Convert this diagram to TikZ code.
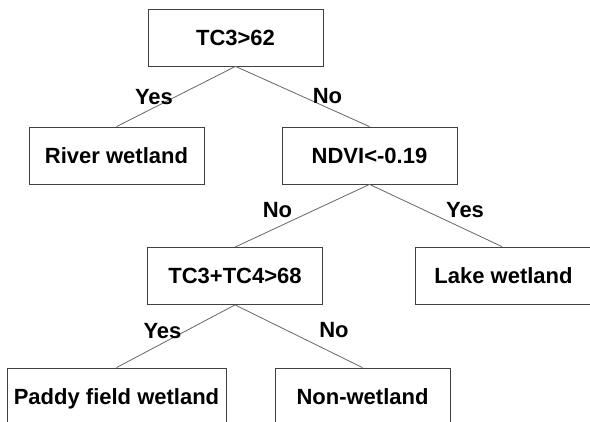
\documentclass[tikz,border=0pt]{standalone}
\usepackage{fontspec}
\setmainfont{Liberation Sans}
\begin{document}
\begin{tikzpicture}[x=1pt,y=-1pt,
  box/.style={draw=black!75, line width=0.8pt, minimum width=175pt, minimum height=57pt, inner sep=0pt,
    text height=16pt, text depth=0pt, font=\fontsize{22}{26}\selectfont\bfseries},
  answer/.style={inner sep=0pt, text height=16pt, text depth=0pt, font=\fontsize{22}{26}\selectfont\bfseries},
  branch/.style={draw=black!60, line width=0.8pt}]

\clip (0,0) rectangle (590,422);

% boxes
\node [box] (root) at (235.5,37.5) {TC3>62};
\node [box] (river) at (116.5,155.5) {River wetland};
\node [box] (ndvi) at (369.5,155.5) {NDVI<-0.19};
\node [box] (tcsum) at (235,276) {TC3+TC4>68};
\node [box, minimum width=177pt] (lake) at (503.5,275.5) {Lake wetland};
\node [box, minimum width=219pt] (paddy) at (116.5,396.5) {Paddy field wetland};
\node [box] (nonwet) at (362.5,396.5) {Non-wetland};

% branches
\draw [branch] (root.south) -- (river.north);
\draw [branch] (root.south) -- (ndvi.north);
\draw [branch] (ndvi.south) -- (tcsum.north);
\draw [branch] (ndvi.south) -- ([xshift=-1.5pt]lake.north);
\draw [branch] (tcsum.south) -- (paddy.north);
\draw [branch] (tcsum.south) -- (nonwet.north);

% answers
\node [answer] (yes1) at (154,96.5) {Yes};
\node [answer] (no1) at (327.5,95.5) {No};
\node [answer] (no2) at (277.5,210) {No};
\node [answer] (yes2) at (465,210) {Yes};
\node [answer] (yes3) at (162.5,330.5) {Yes};
\node [answer] (no3) at (334,329.5) {No};
\end{tikzpicture}
\end{document}
